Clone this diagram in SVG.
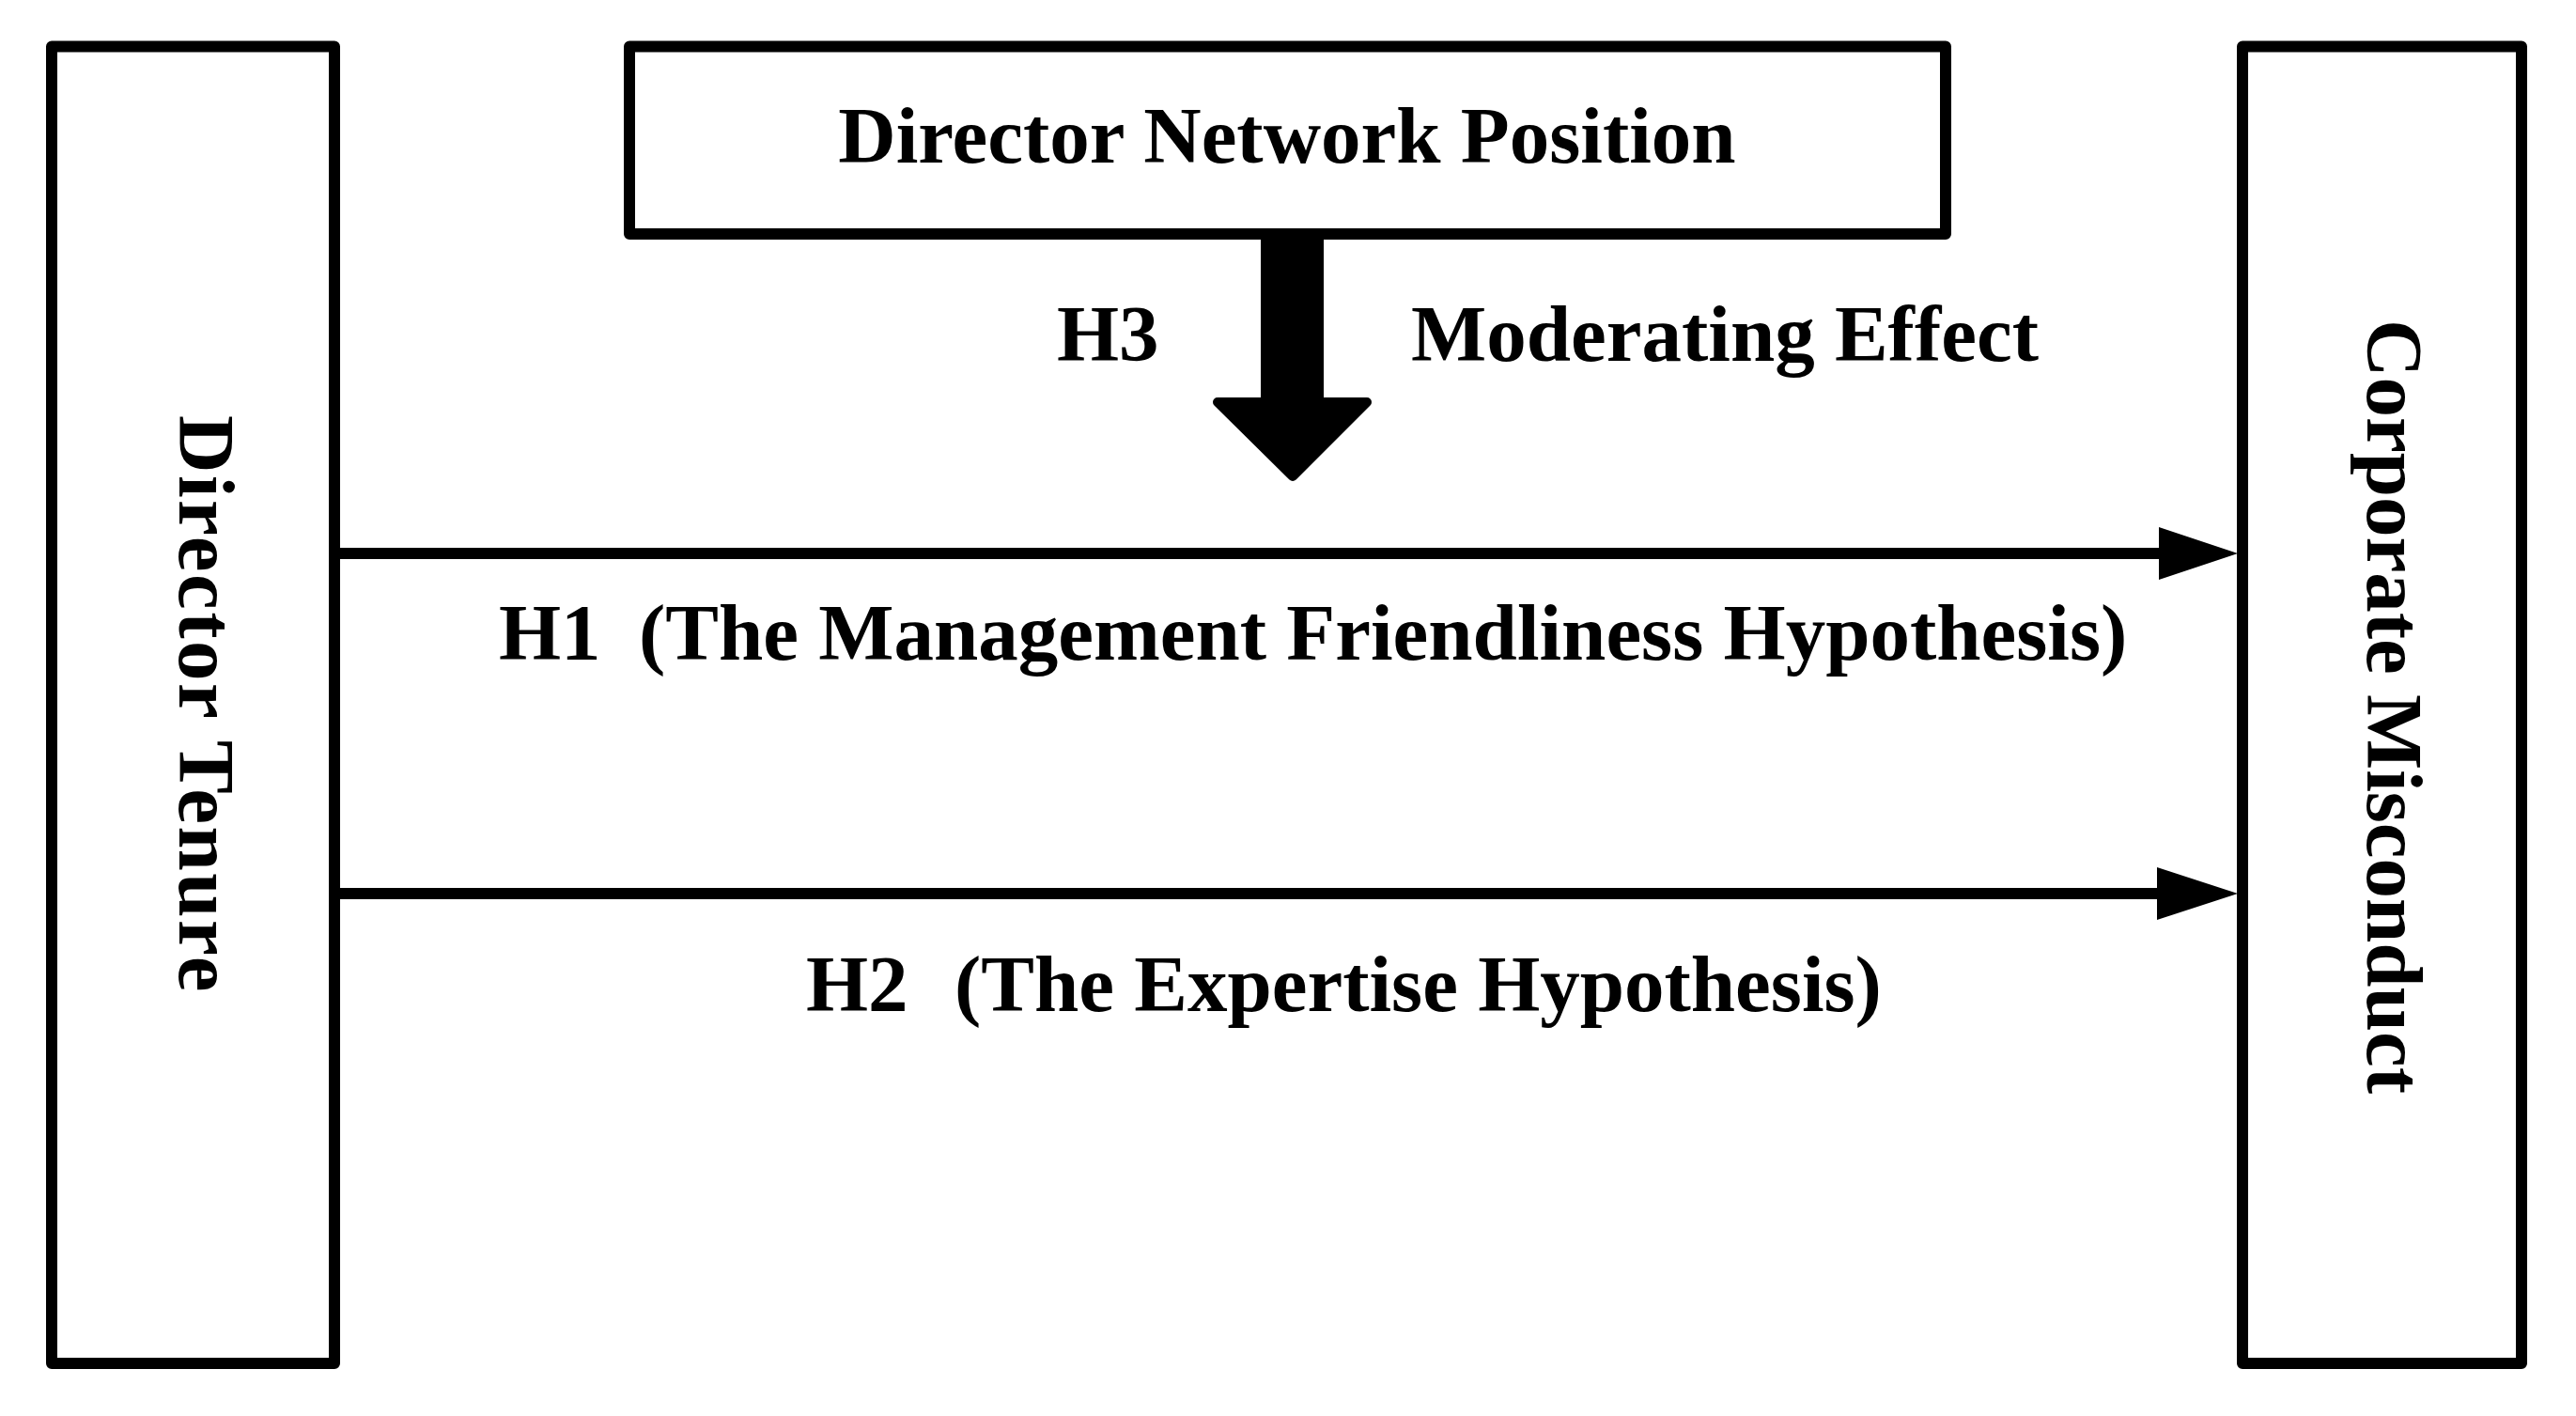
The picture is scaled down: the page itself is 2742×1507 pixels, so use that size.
<svg xmlns="http://www.w3.org/2000/svg" width="2742" height="1507" viewBox="0 0 2742 1507">
<style>
.box{fill:#fff;stroke:#000;stroke-width:12;stroke-linejoin:round}
.lbl{font-family:"Liberation Serif","Times New Roman",serif;font-weight:bold;font-size:85px;fill:#000}
.conn{stroke:#000;stroke-width:12;fill:none}
.head{fill:#000;stroke:none}
</style>
<rect width="2742" height="1507" fill="#fff"/>
<g id="node-director-tenure">
<rect class="box" x="55" y="49.5" width="301" height="1401.5"/>
<text class="lbl" transform="translate(191,750) rotate(90)" text-anchor="middle" letter-spacing="2.5">Director Tenure</text>
</g>
<g id="node-corporate-misconduct">
<rect class="box" x="2387" y="49.5" width="297" height="1401.5"/>
<text class="lbl" transform="translate(2520,752) rotate(90)" text-anchor="middle">Corporate Misconduct</text>
</g>
<g id="node-director-network-position">
<rect class="box" x="670" y="49.5" width="1401" height="199.5"/>
<text class="lbl" x="1370" y="173" text-anchor="middle">Director Network Position</text>
</g>
<g id="connectors">
<g id="h3-moderating-arrow">
<rect x="1342" y="249" width="67" height="180" fill="#000"/>
<polygon points="1296,428 1455,428 1376,507" fill="#000" stroke="#000" stroke-width="10" stroke-linejoin="round"/>
</g>
<g id="h1-arrow">
<line class="conn" x1="356" y1="589" x2="2300" y2="589"/>
<polygon class="head" points="2298,561 2382,589 2298,617"/>
</g>
<g id="h2-arrow">
<line class="conn" x1="356" y1="951" x2="2298" y2="951"/>
<polygon class="head" points="2296,923 2382,951 2296,979"/>
</g>
</g>
<g id="labels">
<text class="lbl" x="1125" y="384">H3</text>
<text class="lbl" x="1502" y="384">Moderating Effect</text>
<text class="lbl" x="531" y="702" xml:space="preserve">H1  <tspan x="680">(The Management Friendliness Hypothesis)</tspan></text>
<text class="lbl" x="858" y="1076" xml:space="preserve">H2  <tspan x="1016">(The Expertise Hypothesis)</tspan></text>
</g>
</svg>
